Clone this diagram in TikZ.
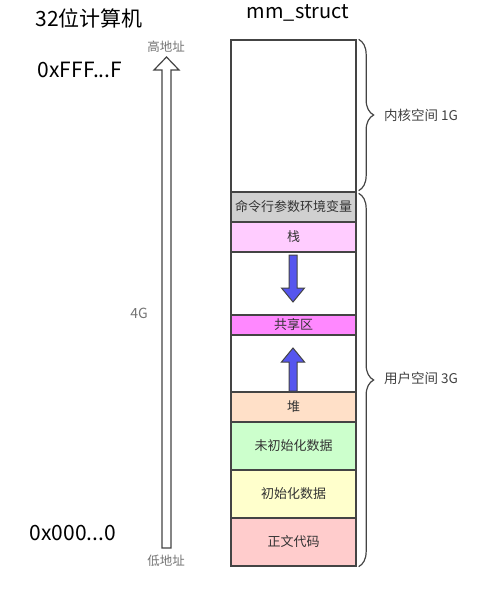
\documentclass[tikz,border=0pt]{standalone}
\usepackage{fontspec}
\setmainfont{Noto Sans CJK SC}
\usetikzlibrary{decorations.pathreplacing}

\definecolor{edgegray}{HTML}{444444}
\definecolor{envgray}{HTML}{D0D0D0}
\definecolor{stackpink}{HTML}{FFCCFF}
\definecolor{sharedpink}{HTML}{FF88FF}
\definecolor{heappeach}{HTML}{FFE0C8}
\definecolor{bssgreen}{HTML}{CCFFCC}
\definecolor{datayellow}{HTML}{FFFFCC}
\definecolor{textred}{HTML}{FFCCCC}
\definecolor{arrowblue}{HTML}{5555EE}

\tikzset{
  cell/.style={draw=edgegray, line width=1.3pt, minimum width=125pt, inner sep=0pt,
    font=\fontsize{13}{13}\selectfont, text=black!80},
  bigtext/.style={font=\fontsize{21}{22}\selectfont, inner sep=0pt},
  smalltext/.style={font=\fontsize{12.5}{13}\selectfont, text=black!55, inner sep=0pt},
  bracelabel/.style={font=\fontsize{13.5}{14}\selectfont, text=black!75, inner sep=0pt, anchor=west},
  memorybrace/.style={draw=edgegray, line width=1.2pt, decorate, decoration={brace, amplitude=15pt}}
}

\begin{document}
\begin{tikzpicture}[x=1pt, y=-1pt]
            \useasboundingbox (0,0) rectangle (500,605);

            % titles and addresses
            \node[bigtext] (title) at (89,18) {32位计算机};
            \node[bigtext] (high) at (80,70) {0xFFF...F};
            \node[bigtext] (low) at (73,533) {0x000...0};
            \node[font=\fontsize{20}{21}\selectfont, inner sep=0pt] (mm) at (298,13) {mm\_struct};

            % address arrow
            \filldraw[fill=white, draw=edgegray, line width=1.2pt]
                (162,548) -- (162,70) -- (154,70) -- (166.5,57) -- (179,70) -- (171,70) -- (171,548) -- cycle;
            \node[smalltext] (highaddr) at (166,47) {高地址};
            \node[smalltext] (lowaddr) at (166,561) {低地址};
            \node[smalltext, font=\fontsize{14}{14}\selectfont] (size) at (139,313) {4G};

            % memory layout
            \node[cell, minimum height=152pt] (kern) at (293.5,116) {};
            \node[cell, fill=envgray, minimum height=30pt] (env) at (293.5,207) {命令行参数环境变量};
            \node[cell, fill=stackpink, minimum height=30pt] (stack) at (293.5,237) {栈};
            \node[cell, minimum height=63pt] (gapdown) at (293.5,283.5) {};
            \node[cell, fill=sharedpink, minimum height=20pt] (shared) at (293.5,325) {共享区};
            \node[cell, minimum height=57pt] (gapup) at (293.5,363.5) {};
            \node[cell, fill=heappeach, minimum height=30pt] (heap) at (293.5,407) {堆};
            \node[cell, fill=bssgreen, minimum height=48pt] (bss) at (293.5,446) {未初始化数据};
            \node[cell, fill=datayellow, minimum height=48pt] (data) at (293.5,494) {初始化数据};
            \node[cell, fill=textred, minimum height=48pt] (code) at (293.5,542) {正文代码};

            % growth arrows
            \filldraw[fill=arrowblue, draw=edgegray, line width=1pt]
                (289,255) -- (297,255) -- (297,288) -- (304.5,288) -- (293,302) -- (281.5,288) -- (289,288) -- cycle;
            \filldraw[fill=arrowblue, draw=edgegray, line width=1pt]
                (289,391) -- (297,391) -- (297,362) -- (304.5,362) -- (293,348) -- (281.5,362) -- (289,362) -- cycle;

            % braces
            \draw[memorybrace] ([xshift=2pt]kern.north east) -- ([xshift=2pt,yshift=2pt]kern.south east);
            \node[bracelabel] (kernlabel) at (384,115) {内核空间 1G};
            \draw[memorybrace] ([xshift=2pt,yshift=-2pt]env.north east) -- ([xshift=2pt]code.south east);
            \node[bracelabel] (userlabel) at (384,378) {用户空间 3G};
        \end{tikzpicture}
\end{document}
